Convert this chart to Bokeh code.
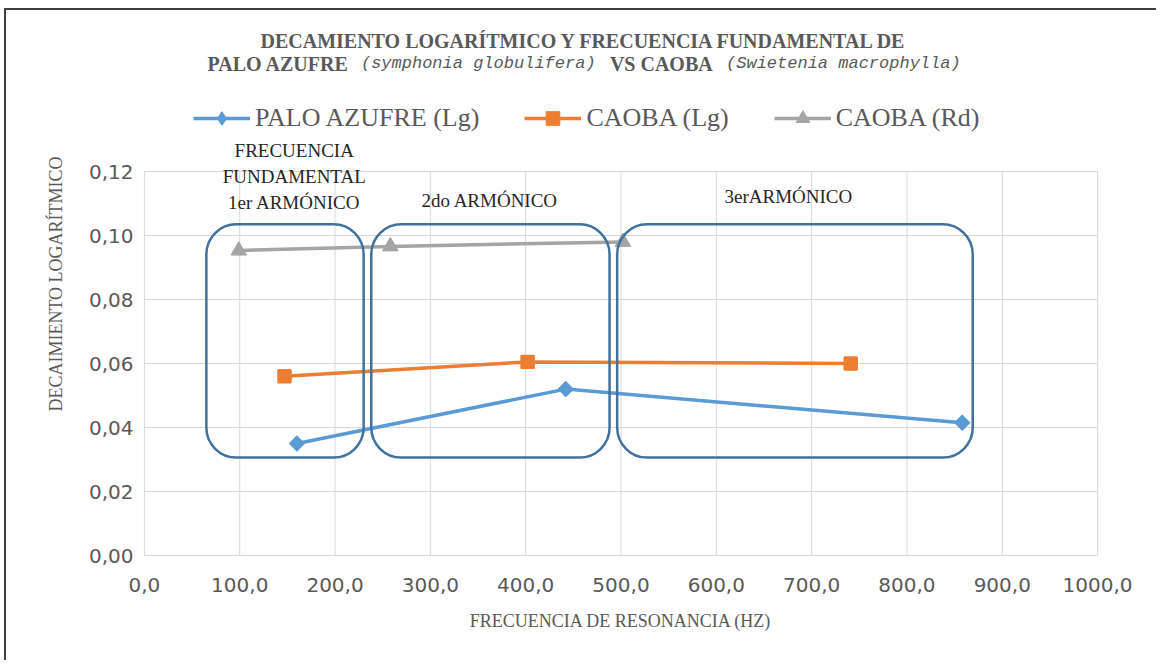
import math
from bokeh.plotting import figure
from bokeh.models import (Range1d, FixedTicker, CustomJSTickFormatter, Label,
                          BoxAnnotation, Legend, LegendItem)
from bokeh.embed import file_html
from bokeh.resources import INLINE

# ---------------- data ----------------
series_names = ["PALO AZUFRE (Lg)", "CAOBA (Lg)", "CAOBA (Rd)"]
freq_palo_lg = [160, 442, 858]
dec_palo_lg = [0.035, 0.052, 0.0415]
freq_caoba_lg = [147, 402, 741]
dec_caoba_lg = [0.056, 0.0605, 0.060]
freq_caoba_rd = [99, 258, 502]
dec_caoba_rd = [0.0953, 0.0966, 0.098]

x_ticks = [0, 100, 200, 300, 400, 500, 600, 700, 800, 900, 1000]
y_ticks = [0.0, 0.02, 0.04, 0.06, 0.08, 0.10, 0.12]

region_labels = ["FRECUENCIA\nFUNDAMENTAL\n1er ARMÓNICO", "2do ARMÓNICO", "3erARMÓNICO"]
region_left = [65, 238, 496]
region_right = [230, 488, 869]
region_bottom = [0.0306, 0.0306, 0.0306]
region_top = [0.1035, 0.1035, 0.1035]

title_line1 = "DECAMIENTO LOGARÍTMICO Y FRECUENCIA FUNDAMENTAL DE"
title_line2 = ["PALO AZUFRE", "(symphonia globulifera)", "VS CAOBA", "(Swietenia macrophylla)"]
x_title = "FRECUENCIA DE RESONANCIA (HZ)"
y_title = "DECAIMIENTO LOGARÍTMICO"

colors = ["#5B9BD5", "#ED7D31", "#A5A5A5"]
GRID = "#D9D9D9"
TXT = "#595959"

# mapping of reference-pixel positions (used only to place texts) to data units
X0_PX, X_SCALE = 144.2, 0.953      # px per Hz
Y0_PX, Y_SCALE = 555.0, 3200.0     # px per unit
def dx(px):
    return (px - X0_PX) / X_SCALE
def dy(py):
    return (Y0_PX - py) / Y_SCALE

p = figure(frame_width=957, frame_height=547,
           min_border_left=136, min_border_right=57, min_border_top=0, min_border_bottom=103,
           x_range=Range1d(-2, 1002), y_range=Range1d(-0.000625, 0.1703125),
           output_backend="svg", toolbar_location=None)
p.styles = {"margin-left": "4px", "margin-top": "8px",
            "border-top": "2px solid #404040", "border-left": "2px solid #404040"}
p.background_fill_color = "white"
p.border_fill_color = "white"
p.outline_line_color = None
p.grid.visible = False

p.xaxis.ticker = FixedTicker(ticks=x_ticks)
p.yaxis.ticker = FixedTicker(ticks=y_ticks)
p.xaxis.formatter = CustomJSTickFormatter(code="return tick.toFixed(1).replace('.', ',');")
p.yaxis.formatter = CustomJSTickFormatter(code="return tick.toFixed(2).replace('.', ',');")
for ax in (p.xaxis, p.yaxis):
    ax.axis_line_color = None
    ax.major_tick_line_color = None
    ax.minor_tick_line_color = None
    ax.major_tick_out = 0
    ax.major_tick_in = 0
    ax.major_label_text_font = "DejaVu Sans"
    ax.major_label_text_font_size = "20px"
    ax.major_label_text_color = TXT
    ax.axis_label_text_font = "Liberation Serif"
    ax.axis_label_text_font_size = "18px"
    ax.axis_label_text_font_style = "normal"
    ax.axis_label_text_color = TXT
p.xaxis.major_label_standoff = 20
p.yaxis.major_label_standoff = 9
p.xaxis.axis_label = x_title
p.xaxis.axis_label_standoff = 16
p.yaxis.axis_label = y_title
p.yaxis.axis_label_standoff = 20

# plot-area grid (limited to the plot area, which sits below the title zone)
p.segment(x0=x_ticks, y0=[y_ticks[0]] * len(x_ticks), x1=x_ticks, y1=[y_ticks[-1]] * len(x_ticks),
          line_color=GRID, line_width=1)
p.segment(x0=[x_ticks[0]] * len(y_ticks), y0=y_ticks, x1=[x_ticks[-1]] * len(y_ticks), y1=y_ticks,
          line_color=GRID, line_width=1)

# series
xs = [freq_palo_lg, freq_caoba_lg, freq_caoba_rd]
ys = [dec_palo_lg, dec_caoba_lg, dec_caoba_rd]
markers = ["square", "square", "triangle"]
angles = [math.pi / 4, 0, 0]
sizes = [11, 13, 15]
legend_markers = ["diamond", "square", "triangle"]
legend_sizes = [15, 13, 15]
items = []
for name, x, y, c, m, a, s, lm, ls in zip(series_names, xs, ys, colors, markers, angles, sizes,
                                          legend_markers, legend_sizes):
    ln = p.line(x, y, line_width=3.5, color=c)
    # legend key marker, drawn at the same points underneath the visible marker
    key = p.scatter(x, y, marker=lm, size=ls, color=c)
    p.scatter(x, y, marker=m, size=s, angle=a, color=c)
    items.append(LegendItem(label=name, renderers=[ln, key]))

legend = Legend(items=items, orientation="horizontal", location=(51, 422),
                padding=0, margin=0, spacing=45, glyph_width=57, glyph_height=34,
                label_height=26, label_standoff=5,
                label_text_font="Liberation Serif", label_text_font_size="26px",
                label_text_color=TXT, border_line_color=None, background_fill_alpha=0)
p.add_layout(legend)

# region boxes
for l, r, b, t in zip(region_left, region_right, region_bottom, region_top):
    p.add_layout(BoxAnnotation(left=l, right=r, bottom=b, top=t, border_radius=30,
                               fill_alpha=0, line_color="#41719C", line_width=2.5,
                               line_alpha=1))

# region labels
region_pos = [(dx(294), dy(176)), (dx(489.5), dy(200)), (dx(788), dy(196))]
for txt, (lx, ly) in zip(region_labels, region_pos):
    p.add_layout(Label(x=lx, y=ly, text=txt, text_align="center", text_baseline="middle",
                       text_font="Liberation Serif", text_font_size="19px",
                       text_color="#262626", text_line_height=1.25))

# chart title
p.add_layout(Label(x=dx(584), y=dy(40), text=title_line1, text_align="center",
                   text_baseline="middle", text_font="Liberation Serif", text_font_style="bold",
                   text_font_size="20px", text_color=TXT))
t2_centers = [278, 478, 661, 843]
t2_styles = [("Liberation Serif", "bold", "20px"), ("Liberation Mono", "italic", "17px"),
             ("Liberation Serif", "bold", "20px"), ("Liberation Mono", "italic", "17px")]
for txt, cx, (fnt, sty, fs) in zip(title_line2, t2_centers, t2_styles):
    p.add_layout(Label(x=dx(cx), y=dy(63), text=txt, text_align="center",
                       text_baseline="middle", text_font=fnt, text_font_style=sty,
                       text_font_size=fs, text_color=TXT))

open("out.html", "w").write(file_html(p, INLINE))
